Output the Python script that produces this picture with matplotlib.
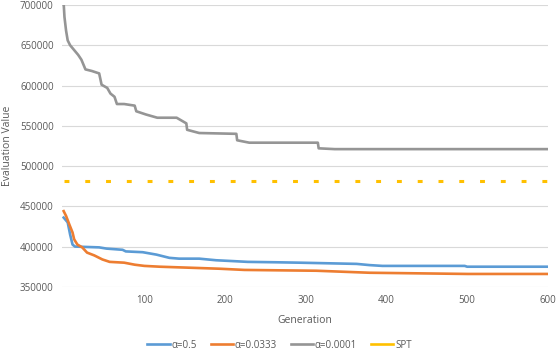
import matplotlib.pyplot as plt
from matplotlib.lines import Line2D

# generation / value points
gen_a05 = [0, 5, 8, 11, 14, 44, 53, 73, 77, 98, 115, 131, 143, 168, 189, 209, 228, 263, 292, 363, 379, 395, 497, 500, 600]
val_a05 = [436000, 430000, 415000, 402500, 400000, 399000, 397500, 396000, 394000, 393000, 390000, 386000,
           385000, 385000, 383000, 382000, 381000, 380500, 380000, 378500, 377000, 376000, 376000, 375000, 375000]

gen_a0333 = [0, 3, 7, 11, 13, 17, 23, 29, 38, 48, 57, 75, 88, 100, 119, 193, 224, 267, 313, 379, 501, 600]
val_a0333 = [444000, 438000, 427500, 417500, 409000, 402500, 399000, 392500, 389000, 384000, 381000, 380000,
             377500, 376000, 375000, 372500, 371000, 370500, 370000, 367500, 366000, 366000]

gen_a0001 = [0, 1, 3, 5, 8, 13, 18, 22, 27, 35, 44, 47, 54, 58, 63, 66, 75, 88, 90, 102, 116, 140, 152, 153, 168,
             214, 215, 230, 315, 316, 336, 600]
val_a0001 = [702000, 685000, 668000, 656000, 650000, 644000, 638000, 632000, 620000, 618000, 615000, 601000,
             597000, 590000, 586000, 577000, 577000, 575000, 568000, 564000, 560000, 560000, 553000, 545000,
             541000, 540000, 532000, 529000, 529000, 522000, 521000, 521000]

spt_value = 482000

y_ticks = [350000, 400000, 450000, 500000, 550000, 600000, 650000, 700000]
x_ticks = [100, 200, 300, 400, 500, 600]

plt.rcParams["font.family"] = ["Open Sans", "DejaVu Sans"]

fig = plt.figure(figsize=(5.59, 3.55), dpi=100)
ax = fig.add_axes([0.111, 0.192, 0.869, 0.794])

l1, = ax.plot(gen_a05, val_a05, color="#5B9BD5", lw=1.9, label="α=0.5")
l2, = ax.plot(gen_a0333, val_a0333, color="#ED7D31", lw=1.9, label="α=0.0333")
l3, = ax.plot(gen_a0001, val_a0001, color="#959595", lw=1.9, label="α=0.0001")
ax.plot([0, 600], [spt_value, spt_value], color="#FFC000", lw=2.2, dashes=(1.6, 5.2), label="SPT")

ax.set_xlim(-2, 600)
ax.set_ylim(350000, 700000)
ax.set_xticks(x_ticks)
ax.set_yticks(y_ticks)
ax.grid(axis="y", color="#D9D9D9", lw=0.8)
ax.set_axisbelow(True)
for s in ax.spines.values():
    s.set_visible(False)
ax.tick_params(length=0, labelsize=7, labelcolor="#595959", pad=6)

ax.set_xlabel("Generation", fontsize=7.5, color="#595959", labelpad=6)
ax.set_ylabel("Evaluation Value", fontsize=7.5, color="#595959", labelpad=5)

# legend shows SPT as a solid swatch
spt_handle = Line2D([], [], color="#FFC000", lw=1.9)
fig.legend([l1, l2, l3, spt_handle], ["α=0.5", "α=0.0333", "α=0.0001", "SPT"],
           loc="center", bbox_to_anchor=(0.5, 0.028), ncol=4, frameon=False,
           fontsize=7, labelcolor="#595959", handlelength=2.3, handletextpad=0.2,
           columnspacing=1.4)

plt.savefig("out.png", dpi=100)
